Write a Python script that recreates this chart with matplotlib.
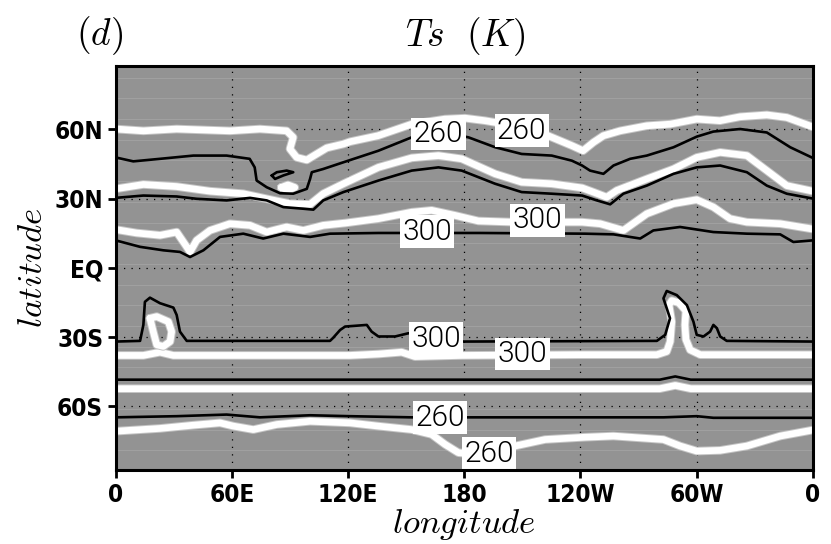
import matplotlib
matplotlib.use("Agg")
import matplotlib.pyplot as plt
import matplotlib.patheffects as pe
from matplotlib.font_manager import FontProperties

plt.rcParams["mathtext.fontset"] = "cm"

# ---------------- data: contour paths of surface temperature (lon, lat) ----------------
# white contours (model field)
w1_lon = [0, 14.3, 31.5, 59.0, 74.5, 88.3, 91.7, 90.0, 93.5, 98.7, 103.8, 109.0, 117.6, 121.0,
          135.5, 152.9, 170.1, 180.4, 190.8, 206.3, 223.3, 235.6, 241.4, 246.7, 251.9, 260.5,
          274.3, 286.4, 300.1, 312.1, 322.5, 336.3, 346.6, 360]
w1_lat = [60.1, 59.3, 60.1, 59.3, 60.1, 59.3, 56.5, 51.5, 47.8, 46.7, 49.3, 51.9, 53.6, 54.6,
          57.2, 62.2, 64.4, 64.8, 63.7, 61.5, 57.2, 52.9, 50.7, 54.3, 57.2, 59.3,
          61.5, 62.2, 64.4, 63.7, 65.4, 66.2, 65.1, 61.0]

w2_lon = [0, 14.3, 31.5, 48.7, 65.9, 78.0, 90.0, 100.4, 107.2, 117.6, 135.7, 152.9, 166.7,
          178.7, 196.0, 209.7, 225.2, 240.9, 246.7, 253.6, 258.8, 274.3, 288.1, 300.1, 312.2,
          326.0, 336.3, 346.6, 360]
w2_lat = [34.2, 36.1, 35.2, 33.2, 32.1, 29.9, 27.8, 27.5, 32.1, 36.4, 43.5, 47.6, 48.6,
          47.2, 40.7, 37.1, 36.4, 34.6, 32.8, 30.6, 33.5, 38.5, 42.8, 47.8, 50.0,
          48.6, 42.1, 35.6, 33.2]

w3_lon = [0, 10.8, 22.9, 31.5, 36.7, 38.4, 41.8, 48.7, 59.0, 69.4, 78.0, 88.3, 96.9, 107.2,
          118.5, 135.7, 152.9, 163.2, 175.3, 187.3, 208.9, 232.1, 240.9, 250.2, 262.2, 274.3,
          288.1, 300.1, 308.7, 317.3, 326.0, 343.2, 360]
w3_lat = [16.6, 15.1, 14.1, 15.5, 9.1, 6.9, 11.9, 16.2, 19.1, 18.4, 15.5, 17.7, 16.2, 18.4,
          19.4, 21.3, 24.1, 24.9, 22.7, 20.3, 19.7, 19.8, 19.8, 19.1, 16.2, 23.4,
          27.8, 29.5, 26.3, 21.3, 19.8, 19.1, 16.8]

w4_lon = [0, 14.3, 22.9, 29.8, 121.0, 135.7, 147.7, 154.6, 178.7, 239.9, 279.5, 284.6,
          286.4, 287.2, 285.8, 287.2, 290.8, 294.5, 294.0, 294.5, 296.7, 301.9, 360]
w4_lat = [-37.9, -37.9, -36.5, -37.9, -37.9, -37.3, -36.5, -38.4, -37.9, -37.6, -37.6, -36.2,
          -31.9, -23.3, -16.1, -14.2, -15.1, -18.6, -24.7, -31.0, -35.5, -37.6, -37.6]

w5_lon = [0, 281.0, 289.0, 297.0, 360]
w5_lat = [-52.3, -52.3, -50.9, -52.3, -52.3]

w6_lon = [0, 22.9, 40.0, 53.9, 60.8, 71.1, 83.2, 100.4, 121.0, 135.7, 152.9, 163.2, 170.1,
          177.0, 192.3, 206.3, 221.8, 242.4, 257.1, 282.9, 291.5, 300.1, 312.2, 326.0, 343.2, 360]
w6_lat = [-70.7, -69.5, -68.1, -67.1, -68.5, -70.0, -67.8, -66.4, -67.1, -68.5, -70.0, -72.1,
          -76.4, -80.0, -81.2, -77.1, -74.3, -73.3, -72.8, -74.3, -77.1, -79.3, -79.0, -77.1,
          -72.8, -70.2]

# small closed white contours
w_loop_sa_lon = [17.7, 21.2, 27.2, 28.9, 28.1, 24.6, 21.2, 19.4, 17.7]
w_loop_sa_lat = [-21.8, -21.1, -23.3, -27.6, -31.9, -34.0, -33.3, -27.6, -21.8]
w_blob_lon = [85.5, 89.0, 92.5, 89.0, 85.5]
w_blob_lat = [34.8, 35.9, 34.8, 33.7, 34.8]

# black contours (observed field)
b1_lon = [0, 9.1, 22.9, 40.1, 57.3, 69.2, 71.8, 72.8, 78.0, 84.9, 91.7, 98.7, 100.4, 101.3,
          107.2, 117.6, 135.7, 152.9, 167.5, 182.2, 196.0, 209.7, 225.2, 235.6, 240.9, 245.0,
          251.9, 257.1, 265.7, 274.3, 288.1, 300.1, 308.7, 322.5, 336.3, 348.4, 360]
b1_lat = [47.8, 46.1, 47.2, 48.6, 48.6, 47.2, 43.5, 37.8, 34.9, 32.3, 32.1, 34.2, 38.5, 41.4,
          42.8, 45.7, 50.7, 56.5, 58.9, 56.5, 52.2, 49.3, 48.6, 46.4, 44.3, 42.1,
          40.7, 44.3, 47.2, 48.6, 52.2, 56.8, 59.0, 60.1, 58.6, 52.2, 47.6]

b1_loop_lon = [80.6, 83.2, 88.3, 91.7, 86.6, 82.3, 80.6]
b1_loop_lat = [40.0, 41.4, 42.1, 41.4, 40.0, 38.5, 40.0]

b2_lon = [0, 14.3, 31.5, 41.8, 57.3, 69.4, 78.0, 86.6, 96.9, 102.1, 107.2, 117.6, 135.7,
          152.9, 166.7, 178.7, 196.0, 209.7, 225.2, 240.9, 248.5, 255.4, 262.2, 274.3, 288.1,
          300.1, 312.2, 326.0, 336.3, 346.6, 360]
b2_lat = [30.3, 31.3, 30.9, 29.9, 29.2, 30.3, 29.2, 26.3, 25.6, 25.2, 29.2, 32.8, 37.8,
          42.1, 43.5, 42.1, 36.4, 32.8, 32.1, 31.3, 29.2, 27.5, 32.1, 35.6, 40.7,
          43.5, 44.3, 41.4, 35.6, 32.1, 30.0]

b3_lon = [0, 12.6, 24.6, 33.2, 38.4, 45.3, 53.9, 65.9, 76.2, 86.6, 100.4, 110.7, 135.7,
          188.2, 242.4, 257.1, 270.9, 277.7, 291.5, 308.7, 326.0, 343.2, 350.0, 360]
b3_lat = [11.9, 9.1, 7.6, 6.9, 4.7, 7.6, 13.4, 14.8, 12.7, 14.8, 13.4, 14.8, 15.1,
          15.1, 14.8, 14.5, 12.7, 16.2, 17.7, 15.5, 14.8, 14.5, 11.2, 11.9]

b4_lon = [0, 12.6, 14.3, 15.1, 17.7, 22.9, 29.8, 31.5, 33.2, 36.7, 110.7, 112.3, 115.9,
          118.5, 129.7, 132.2, 135.7, 144.3, 151.2, 157.2, 179.6, 279.5, 283.8, 286.3, 282.9,
          284.6, 289.8, 295.0, 298.4, 300.1, 303.6, 307.0, 308.7, 310.5, 312.2, 315.6, 360]
b4_lat = [-31.9, -31.6, -24.7, -14.7, -12.9, -15.3, -17.2, -20.4, -27.6, -31.6, -31.6, -30.3,
          -26.9, -25.4, -24.7, -27.6, -29.7, -29.7, -28.3, -29.0, -31.9, -31.6, -29.0, -21.8,
          -13.2, -10.0, -11.8, -16.1, -23.3, -29.0, -29.7, -27.6, -24.7, -26.1, -29.7, -31.6,
          -31.9]

b5_lon = [0, 281.0, 289.0, 297.0, 360]
b5_lat = [-48.4, -48.4, -47.0, -48.4, -48.4]

b6_lon = [0, 31.5, 57.3, 74.5, 100.4, 121.0, 152.9, 182.2, 242.4, 282.9, 300.1, 308.7, 360]
b6_lat = [-64.7, -64.2, -63.5, -64.7, -63.8, -64.2, -64.7, -64.7, -64.7, -64.7, -64.2,
          -64.9, -64.9]

# contour labels: text, lon, lat
label_text = ["260", "260", "300", "300", "300", "300", "260", "260"]
label_lon = [166.7, 209.7, 160.7, 217.9, 165.4, 210.2, 167.5, 192.7]
label_lat = [57.9, 59.3, 15.7, 20.6, -30.6, -37.3, -64.9, -80.4]

# axes ticks
lon_ticks = [0, 60, 120, 180, 240, 300, 360]
lon_labels = ["0", "60E", "120E", "180", "120W", "60W", "0"]
lat_ticks = [-60, -30, 0, 30, 60]
lat_labels = ["60S", "30S", "EQ", "30N", "60N"]

# rows of the shaded grid that show up as faint light streaks
streak_lat = [82.3, 73.4, 64.4, 55.5, 46.5, 37.6, 28.6, 19.6, 10.7, 1.7, -7.3, -16.2,
              -25.2, -34.1, -43.1, -52.1, -61.1, -70.0, -79.0]

# ---------------- figure ----------------
fig = plt.figure(figsize=(8.31, 5.44), dpi=100)
ax = fig.add_axes([0.1392, 0.136, 0.8388, 0.7432])
ax.set_facecolor("#939393")
ax.set_xlim(0, 360)
ax.set_ylim(-87.5, 87.5)

for la in streak_lat:
    ax.axhline(la, color="#a0a0a0", lw=0.8, zorder=1)

white_fx = [pe.Stroke(linewidth=6.2, foreground="#c4c4c4"), pe.Normal()]
white_kw = dict(color="white", lw=4.8, solid_capstyle="round", solid_joinstyle="round",
                zorder=3, path_effects=white_fx)
black_kw = dict(color="black", lw=1.9, solid_capstyle="round", solid_joinstyle="round",
                zorder=4)

for lo, la in [(w1_lon, w1_lat), (w2_lon, w2_lat), (w3_lon, w3_lat), (w4_lon, w4_lat),
               (w5_lon, w5_lat), (w6_lon, w6_lat), (w_loop_sa_lon, w_loop_sa_lat),
               (w_blob_lon, w_blob_lat)]:
    ax.plot(lo, la, **white_kw)

for lo, la in [(b1_lon, b1_lat), (b1_loop_lon, b1_loop_lat), (b2_lon, b2_lat),
               (b3_lon, b3_lat), (b4_lon, b4_lat), (b5_lon, b5_lat), (b6_lon, b6_lat)]:
    ax.plot(lo, la, **black_kw)

# dotted graticule
ax.set_xticks(lon_ticks)
ax.set_xticklabels(lon_labels)
ax.set_yticks(lat_ticks)
ax.set_yticklabels(lat_labels)
ax.grid(True, color="black", lw=0.9, linestyle=(0, (1, 5)), zorder=5)
ax.set_axisbelow(False)

label_fp = FontProperties(family=["Roboto", "Liberation Sans"], weight=300, size=21.5)
for t, lo, la in zip(label_text, label_lon, label_lat):
    ax.text(lo, la, t, ha="center", va="center", color="black", fontproperties=label_fp,
            zorder=6, bbox=dict(boxstyle="square,pad=0.08", fc="white", ec="none"))

for s in ax.spines.values():
    s.set_linewidth(2.2)
    s.set_zorder(7)

tick_fp = FontProperties(family="DejaVu Sans", weight="bold", stretch="condensed", size=17.5)
ax.tick_params(direction="out", length=6, width=2, pad=3)
for lab in ax.get_xticklabels() + ax.get_yticklabels():
    lab.set_fontproperties(tick_fp)

ax.set_xlabel(r"$\mathit{longitude}$", fontsize=25, labelpad=0)
ax.set_ylabel(r"$\mathit{latitude}$", fontsize=25, labelpad=4)
fig.text(0.56, 0.932, r"$\mathit{Ts\ \ (K)}$", ha="center", va="center", fontsize=27)
fig.text(0.12, 0.935, r"$\mathit{(d)}$", ha="center", va="center", fontsize=27)

fig.savefig("out.png", dpi=100)
